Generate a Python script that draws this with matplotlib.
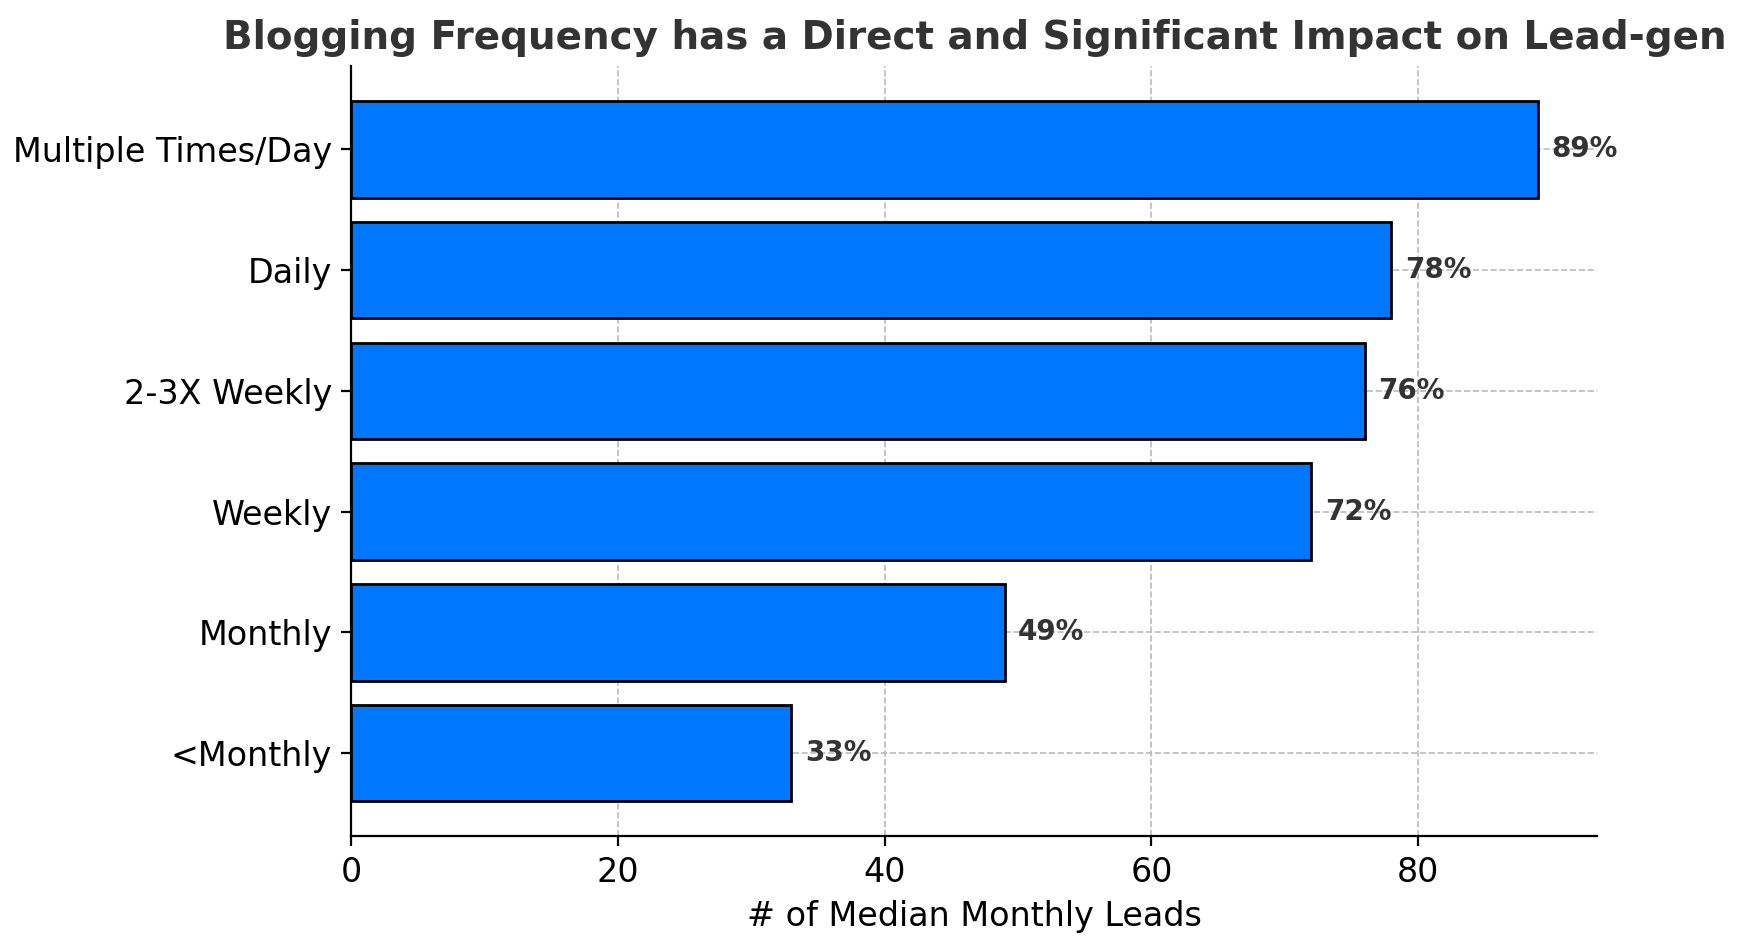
import matplotlib
matplotlib.use("Agg")
import matplotlib.pyplot as plt

categories = ["<Monthly", "Monthly", "Weekly", "2-3X Weekly", "Daily", "Multiple Times/Day"]
values = [33, 49, 72, 76, 78, 89]
labels = ["33%", "49%", "72%", "76%", "78%", "89%"]

fig, ax = plt.subplots(figsize=(8.7, 4.715), dpi=200)
bars = ax.barh(categories, values, color="#0077ff", edgecolor="black", linewidth=1.0, height=0.8, zorder=2)
for b, v, l in zip(bars, values, labels):
    ax.text(v + 1, b.get_y() + b.get_height() / 2, l, va="center", ha="left",
            fontsize=10, fontweight="bold", color="#333333")
ax.grid(True, linestyle="--", color="#bbbbbb", linewidth=0.6, zorder=0)
ax.set_axisbelow(True)
ax.spines["top"].set_visible(False)
ax.spines["right"].set_visible(False)
ax.tick_params(labelsize=12)
ax.set_xlabel("# of Median Monthly Leads", fontsize=12)
ax.set_title("Blogging Frequency has a Direct and Significant Impact on Lead-gen",
             fontsize=14, fontweight="bold", color="#333333")
plt.subplots_adjust(left=0.202, right=0.918, top=0.93, bottom=0.113)
fig.savefig("out.png", dpi=200)
